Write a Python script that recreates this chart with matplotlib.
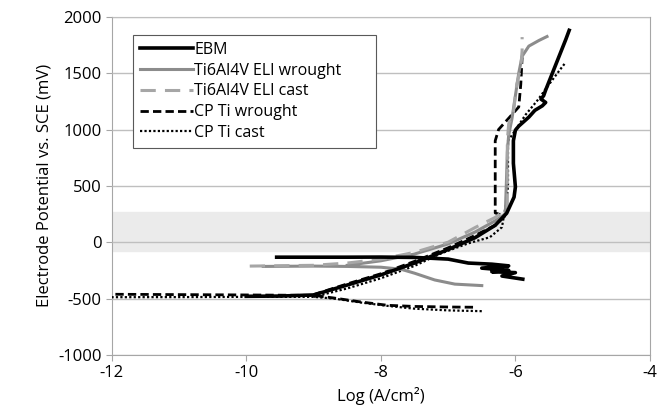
import numpy as np
import matplotlib
matplotlib.use('Agg')
import matplotlib.pyplot as plt

plt.rcParams['font.family'] = ['Open Sans', 'DejaVu Sans']
plt.rcParams['axes.unicode_minus'] = False

nan = np.nan

# EBM (black solid): cathodic part, then low branch rising to the anodic part
ebm_x = [-9.55, -9.0, -8.5, -8.0, -7.5, -7.0, -6.7, -6.35, -6.1, -6.5, -6.1, -6.35, -6.0, -6.2, -5.89, nan,
         -10.0, -9.5, -9.0, -8.5, -8.0, -7.5, -7.0, -6.6, -6.3, -6.13, -6.02, -6.0, -6.03, -6.03, -6.0,
         -5.95, -5.8, -5.71, -5.6, -5.55, -5.62, -5.58, -5.55, -5.45, -5.35, -5.25, -5.2]
ebm_y = [-133, -133, -133, -132, -135, -150, -185, -195, -210, -230, -250, -262, -270, -300, -328, nan,
         -480, -478, -468, -380, -290, -185, -65, 40, 150, 257, 400, 490, 700, 900, 994,
         1030, 1110, 1170, 1210, 1240, 1270, 1300, 1350, 1500, 1650, 1800, 1880]

# Ti6Al4V ELI wrought (grey solid)
tiw_x = [-9.75, -9.0, -8.5, -8.0, -7.7, -7.5, -7.2, -6.9, -6.5, nan,
         -8.5, -8.0, -7.5, -7.0, -6.6, -6.3, -6.15, -6.13, -6.12, -6.1, -6.05, -6.0, -5.95, -5.9,
         -5.8, -5.65, -5.53]
tiw_y = [-215, -212, -215, -222, -240, -275, -335, -372, -385, nan,
         -205, -165, -105, -15, 90, 190, 250, 600, 800, 950, 1100, 1300, 1500, 1650,
         1740, 1790, 1825]

# Ti6Al4V ELI cast (grey dashed)
tic_x = [-9.95, -9.0, -8.5, -8.0, -7.5, -7.0, -6.6, -6.3, -6.12, -6.12, -6.1, -6.03, -5.98, -5.92,
         -5.9, -5.9]
tic_y = [-212, -205, -185, -150, -90, 0, 130, 220, 300, 900, 1050, 1150, 1400, 1550,
         1700, 1820]

# CP Ti wrought (black dashed)
cpw_x = [-6.63, -7.0, -7.5, -7.9, -8.3, -8.7, -9.0, -10.0, -11.0, -12.0, nan,
         -9.0, -8.5, -8.0, -7.5, -7.0, -6.6, -6.3, -6.16, -6.3, -6.3, -6.25, -6.1, -5.95, -5.92,
         -5.9]
cpw_y = [-577, -575, -570, -560, -530, -495, -472, -468, -465, -462, nan,
         -465, -370, -280, -170, -50, 60, 150, 230, 260, 900, 1000, 1100, 1200, 1400,
         1640]

# CP Ti cast (black dotted)
cpc_x = [-6.5, -7.0, -7.5, -7.9, -8.3, -8.7, -9.0, -10.0, -11.0, -12.0, nan,
         -9.0, -8.5, -8.0, -7.5, -7.1, -6.7, -6.38, -6.2, -6.13, -6.11, -6.11, -6.0, -5.85, -5.67,
         -5.5, -5.35, -5.26]
cpc_y = [-612, -605, -590, -565, -535, -500, -485, -485, -487, -488, nan,
         -485, -410, -320, -210, -98, -10, 44, 133, 373, 500, 900, 994, 1130, 1260,
         1400, 1520, 1590]

fig, ax = plt.subplots(figsize=(6.7, 4.2), dpi=100)
fig.subplots_adjust(left=0.167, right=0.970, top=0.960, bottom=0.155)

ax.axhspan(-75, 265, color='#ebebeb', zorder=0)

ax.plot(cpw_x, cpw_y, color='black', lw=2.0, ls=(0, (3, 1.5)), label='CP Ti wrought', zorder=3)
ax.plot(cpc_x, cpc_y, color='black', lw=1.6, ls=(0, (1, 1)), label='CP Ti cast', zorder=3)
ax.plot(tiw_x, tiw_y, color='#8c8c8c', lw=2.2, label='Ti6Al4V ELI wrought', zorder=4)
ax.plot(tic_x, tic_y, color='#a6a6a6', lw=2.2, ls=(0, (5, 3)), label='Ti6Al4V ELI cast', zorder=4)
ax.plot(ebm_x, ebm_y, color='black', lw=2.6, label='EBM', zorder=5)

ax.set_xlim(-12, -4)
ax.set_ylim(-1000, 2000)
ax.set_xticks([-12, -10, -8, -6, -4])
ax.set_yticks([-1000, -500, 0, 500, 1000, 1500, 2000])
ax.yaxis.grid(True, color='#bfbfbf', lw=1.0, zorder=1)
ax.set_axisbelow(False)

for s in ax.spines.values():
    s.set_color('#a6a6a6')
ax.tick_params(colors='#a6a6a6', labelcolor='black', labelsize=12, length=4, direction='out')

ax.set_xlabel('Log (A/cm²)', fontsize=12)
ax.set_ylabel('Electrode Potential vs. SCE (mV)', fontsize=12)

handles, labels = ax.get_legend_handles_labels()
order = [4, 2, 3, 0, 1]
leg = ax.legend([handles[i] for i in order], [labels[i] for i in order],
                loc='upper left', bbox_to_anchor=(0.039, 0.6, 0.452, 0.347), mode='expand',
                borderaxespad=0, fancybox=False, framealpha=1, edgecolor='#595959',
                fontsize=11.5, handlelength=3.3, handletextpad=0.1, labelspacing=0.3,
                borderpad=0.45)
leg.get_frame().set_linewidth(0.8)

plt.savefig('out.png', dpi=100)
